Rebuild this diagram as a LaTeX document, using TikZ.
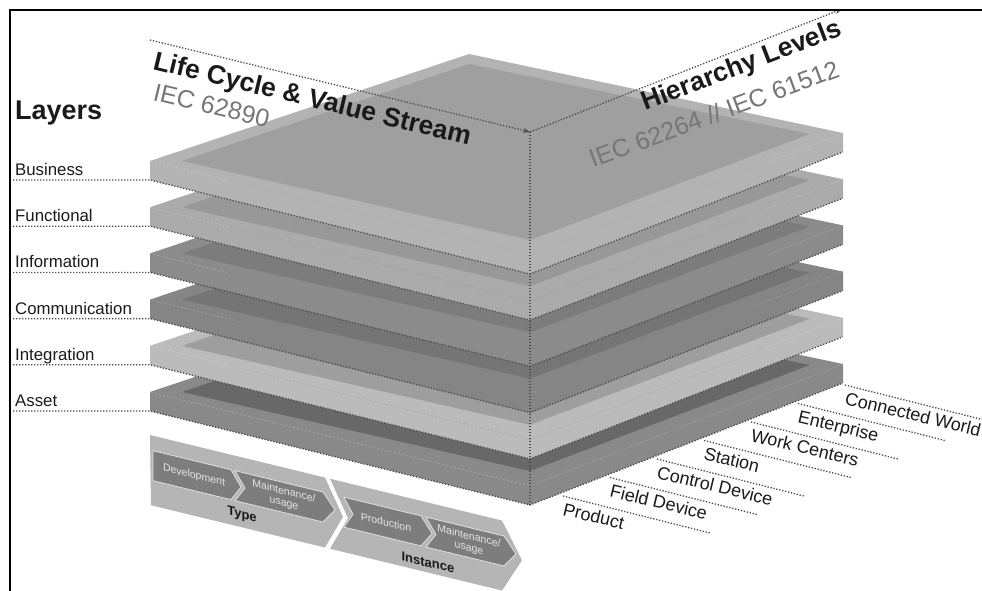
\documentclass[tikz,border=0pt]{standalone}
\usepackage{fontspec}
\setmainfont{Liberation Sans}
\usetikzlibrary{arrows.meta}

\definecolor{dotgray}{HTML}{4A4A4A}
\definecolor{busIn}{HTML}{9F9F9F}
\definecolor{busRim}{HTML}{B3B3B3}
\definecolor{funIn}{HTML}{989898}
\definecolor{funRim}{HTML}{ABABAB}
\definecolor{infIn}{HTML}{7C7C7C}
\definecolor{infRim}{HTML}{8B8B8B}
\definecolor{comIn}{HTML}{757575}
\definecolor{comRim}{HTML}{858585}
\definecolor{intIn}{HTML}{9E9E9E}
\definecolor{intRim}{HTML}{BBBBBB}
\definecolor{assIn}{HTML}{686868}
\definecolor{assRim}{HTML}{898989}
\definecolor{stdgray}{HTML}{767676}
\definecolor{barLight}{HTML}{B5B5B5}
\definecolor{barDark}{HTML}{7D7D7D}
\definecolor{inkblack}{HTML}{1A1A1A}

\begin{document}
\begin{tikzpicture}[x=1pt,y=-1pt,
  dotline/.style={draw=dotgray,line width=1.3pt,dash pattern=on 1.3pt off 1.7pt},
  axistip/.style={-{Stealth[length=7pt,width=5pt]}},
  layerlabel/.style={anchor=base west,inner sep=0pt,text=inkblack,
    font=\fontsize{16.8}{18}\selectfont},
  levellabel/.style={anchor=base west,inner sep=0pt,text=inkblack,rotate=-13.5,
    font=\fontsize{18}{20}\selectfont},
  bigtitle/.style={anchor=base west,inner sep=0pt,text=inkblack,
    font=\fontsize{26.5}{28}\selectfont\bfseries},
  stdtitle/.style={anchor=base west,inner sep=0pt,text=stdgray,
    font=\fontsize{25}{27}\selectfont},
  arrowbox/.style={fill=barDark,draw=white!88!black,line width=0.8pt},
  phase/.style={transform shape,inner sep=0pt,align=center,text=white!90!black,
    font=\fontsize{10.5}{11.5}\selectfont},
  stage/.style={transform shape,inner sep=0pt,text=inkblack,
    font=\fontsize{13}{14}\selectfont\bfseries}]
\useasboundingbox (0,0) rectangle (982,591);

% ---------- layer slabs, drawn from the bottom one upwards ----------
\foreach \k/\ci/\cr in {5/assIn/assRim,4/intIn/intRim,3/comIn/comRim,
                        2/infIn/infRim,1/funIn/funRim,0/busIn/busRim}{
  \pgfmathsetmacro\d{46.2*\k}
  \begin{scope}[shift={(0,\d)}]
    \coordinate (Lt\k) at (150,161);
    \coordinate (Ft\k) at (530,255);
    \coordinate (Rt\k) at (843,133);
    \coordinate (Bt\k) at (469,54);
    \coordinate (Lb\k) at (150,180);
    \coordinate (Fb\k) at (530,274);
    \coordinate (Rb\k) at (843,152);
    \coordinate (ll\k) at (13,180);
    \fill[\cr] (Lt\k) -- (Ft\k) -- (Fb\k) -- (Lb\k) -- cycle;
    \fill[\cr] (Ft\k) -- (Rt\k) -- (Rb\k) -- (Fb\k) -- cycle;
    \fill[\cr] (Lt\k) -- (Ft\k) -- (Rt\k) -- (Bt\k) -- cycle;
    \fill[\ci] (182,161) -- (530,240) -- (810,134) -- (469,64) -- cycle;
  \end{scope}
}

% dotted guide lines from the layer names along the slab bottoms
\foreach \k in {0,...,5}{
  \draw[dotline] (ll\k) -- (Lb\k) -- (Fb\k) -- (Rb\k);
}

% ---------- axes ----------
\coordinate (corner) at (530,132);
\coordinate (lcStart) at (150,40);
\coordinate (hlEnd) at (842,9);
\draw[dotline] (corner) -- (Fb5);
\draw[dotline,axistip] (lcStart) -- (corner);
\draw[dotline,axistip] (corner) -- (hlEnd);

% ---------- layer names ----------
\node[bigtitle,font=\fontsize{27}{28}\selectfont\bfseries] (layers) at (15,120) {Layers};
\node[layerlabel] (nBus) at (15,175) {Business};
\node[layerlabel] (nFun) at (15,221) {Functional};
\node[layerlabel] (nInf) at (15,267) {Information};
\node[layerlabel] (nCom) at (15,314) {Communication};
\node[layerlabel] (nInt) at (15,360) {Integration};
\node[layerlabel] (nAss) at (15,406) {Asset};

% ---------- axis titles ----------
\node[bigtitle,rotate=-13.5] (lcTitle) at (152,69) {Life Cycle \& Value Stream};
\node[stdtitle,rotate=-13.5] (lcStd) at (152,100) {IEC 62890};
\node[bigtitle,rotate=21] (hlTitle) at (645,111) {Hierarchy Levels};
\node[stdtitle,rotate=20.3] (hlStd) at (593,168) {IEC 62264 // IEC 61512};

% ---------- hierarchy levels on the ground ----------
\foreach \i/\name in {0/Product,1/Field Device,2/Control Device,3/Station,
                      4/Work Centers,5/Enterprise,6/Connected World}{
  \coordinate (hs\i) at ({563+47*\i},{496-18.5*\i});
  \coordinate (he\i) at ({710+47*\i},{533-18.5*\i});
  \draw[dotline] (hs\i) -- (he\i);
  \node[levellabel] (hl\i) at ({562+47*\i},{515-18.5*\i}) {\name};
}

% ---------- life cycle bar ----------
\begin{scope}[shift={(150,435)},yslant=-0.243]
  \fill[barLight] (0,0) -- (175,0) -- (193,35) -- (175,70) -- (1,70) -- cycle;
  \fill[barLight] (180,0) -- (352,0) -- (372,35) -- (352,70) -- (180,70)
                  -- (198,35) -- cycle;
  \path[arrowbox] (3,15) -- (81,15) -- (91,30) -- (81,45) -- (3,45) -- cycle;
  \path[arrowbox] (85,15) -- (173,15) -- (185,30) -- (173,45) -- (85,45)
                  -- (95,30) -- cycle;
  \path[arrowbox] (194,15) -- (271,15) -- (282,30) -- (271,45) -- (194,45)
                  -- (203,30) -- cycle;
  \path[arrowbox] (276,15) -- (354,15) -- (366,30) -- (354,45) -- (276,45)
                  -- (286,30) -- cycle;
  \node[phase] (dev) at (44,30) {Development};
  \node[phase] (mt1) at (134,30) {Maintenance/\\usage};
  \node[phase] (prod) at (236,30) {Production};
  \node[phase] (mt2) at (319,30) {Maintenance/\\usage};
  \node[stage] (type) at (92,58) {Type};
  \node[stage] (inst) at (278,60) {Instance};
\end{scope}

% ---------- frame ----------
\coordinate (frBL) at (10,591);
\coordinate (frTL) at (10,10);
\coordinate (frTR) at (982,10);
\draw[line width=2.6pt,black] (frBL) -- (frTL) -- (frTR);
\end{tikzpicture}
\end{document}
